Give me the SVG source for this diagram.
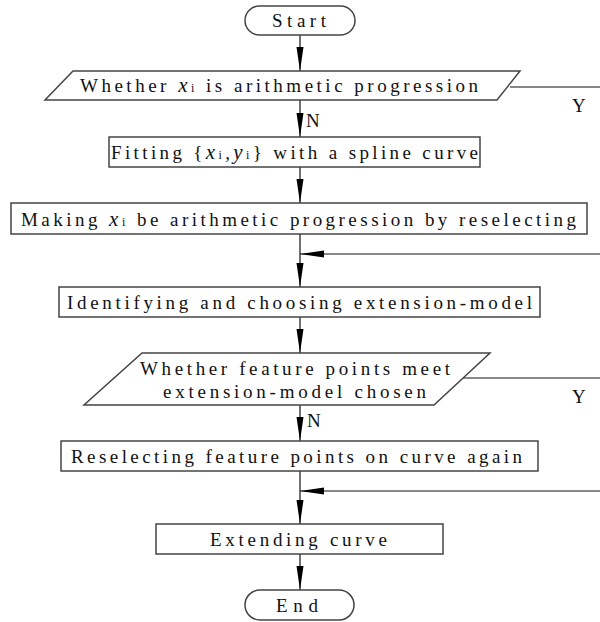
<svg xmlns="http://www.w3.org/2000/svg" width="600" height="622" viewBox="0 0 600 622">
<style>
.sh{fill:#fff;stroke:#444;stroke-width:1.5}
.t{font-family:"Liberation Serif","Times New Roman",serif;font-size:19px;fill:#111}
.lb{font-family:"Liberation Serif","Times New Roman",serif;font-size:19px;fill:#111}
.v{font-style:italic;font-size:21px}
.s{font-size:12px}
.c{fill:none;stroke:#111;stroke-width:1.2}
</style>
<defs>
<marker id="ah" markerUnits="userSpaceOnUse" markerWidth="26" markerHeight="8" refX="24" refY="3.5" orient="auto">
<path d="M0,0 L24,3.5 L0,7 Z" fill="#000"/>
</marker>
</defs>
<rect width="600" height="622" fill="#fff"/>
<g id="connectors">
<line class="c" x1="300" y1="35" x2="300" y2="71" marker-end="url(#ah)"/>
<line class="c" x1="300" y1="100" x2="300" y2="137" marker-end="url(#ah)"/>
<line class="c" x1="300" y1="167" x2="300" y2="203" marker-end="url(#ah)"/>
<line class="c" x1="300" y1="234" x2="300" y2="287" marker-end="url(#ah)"/>
<line class="c" x1="300" y1="317" x2="300" y2="353" marker-end="url(#ah)"/>
<line class="c" x1="300" y1="405" x2="300" y2="441" marker-end="url(#ah)"/>
<line class="c" x1="300" y1="471" x2="300" y2="524" marker-end="url(#ah)"/>
<line class="c" x1="300" y1="554" x2="300" y2="590" marker-end="url(#ah)"/>
<line class="c" x1="510" y1="87" x2="600" y2="87"/>
<line class="c" x1="463" y1="378" x2="600" y2="378"/>
<line class="c" x1="600" y1="254" x2="300" y2="254" marker-end="url(#ah)"/>
<line class="c" x1="600" y1="491" x2="300" y2="491" marker-end="url(#ah)"/>
<text class="lb" x="306" y="127">N</text>
<text class="lb" x="307" y="427">N</text>
<text class="lb" x="572" y="112">Y</text>
<text class="lb" x="572" y="403">Y</text>
</g>
<g id="start">
<rect class="sh" x="245" y="6" width="110" height="29" rx="14.5"/>
<text class="t" x="272" y="27" textLength="54" lengthAdjust="spacing">Start</text>
</g>
<g id="check-arith">
<polygon class="sh" points="73,71 520,71 497,100 45,100"/>
<text class="t" x="80" y="92" textLength="398" lengthAdjust="spacing">Whether <tspan class="v">x</tspan><tspan class="s">i</tspan> is arithmetic progression</text>
</g>
<g id="fitting">
<rect class="sh" x="109" y="137" width="371" height="30"/>
<text class="t" x="111" y="159" textLength="367" lengthAdjust="spacing">Fitting {<tspan class="v">x</tspan><tspan class="s">i</tspan>,<tspan class="v">y</tspan><tspan class="s">i</tspan>} with a spline curve</text>
</g>
<g id="making">
<rect class="sh" x="11" y="203" width="576" height="31"/>
<text class="t" x="21" y="226" textLength="555" lengthAdjust="spacing">Making <tspan class="v">x</tspan><tspan class="s">i</tspan> be arithmetic progression by reselecting</text>
</g>
<g id="identify">
<rect class="sh" x="59" y="287" width="481" height="30"/>
<text class="t" x="67" y="309" textLength="465" lengthAdjust="spacing">Identifying and choosing extension-model</text>
</g>
<g id="check-feature">
<polygon class="sh" points="142,353 490,353 434,405 84,405"/>
<text class="t" x="140" y="375" textLength="310" lengthAdjust="spacing">Whether feature points meet</text>
<text class="t" x="163" y="398" textLength="263" lengthAdjust="spacing">extension-model chosen</text>
</g>
<g id="reselect">
<rect class="sh" x="61" y="441" width="477" height="30"/>
<text class="t" x="71" y="463" textLength="451" lengthAdjust="spacing">Reselecting feature points on curve again</text>
</g>
<g id="extend">
<rect class="sh" x="156" y="524" width="287" height="30"/>
<text class="t" x="210" y="546" textLength="177" lengthAdjust="spacing">Extending curve</text>
</g>
<g id="end">
<rect class="sh" x="245" y="590" width="109" height="30" rx="15"/>
<text class="t" x="276" y="612" textLength="42" lengthAdjust="spacing">End</text>
</g>
</svg>
